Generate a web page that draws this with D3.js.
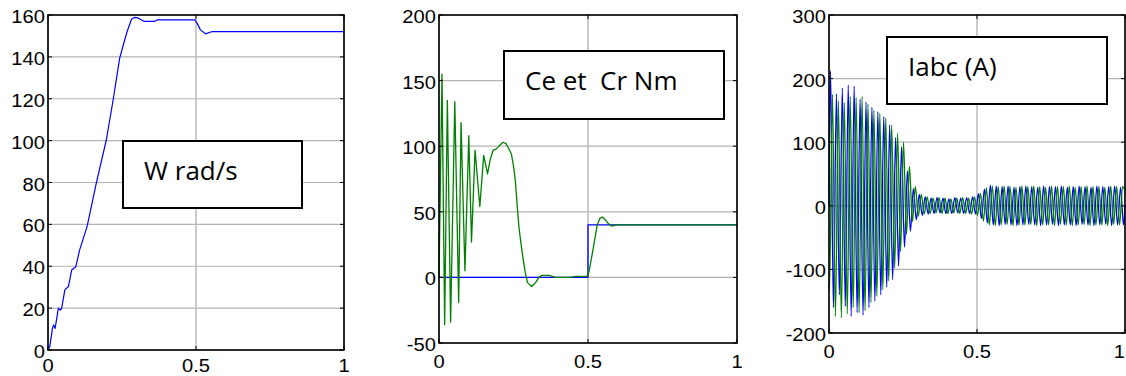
<!DOCTYPE html>
<html><head><meta charset="utf-8">
<script src="https://cdn.jsdelivr.net/npm/d3@7"></script>
<style>body{margin:0;background:#fff;} svg{display:block}</style>
</head><body>
<svg id="c" width="1126" height="376"></svg>
<script>
// ---------- tick data ----------
const xTicks = [0, 0.5, 1];
const xTickLabels = ["0", "0.5", "1"];
const wTicks = [0, 20, 40, 60, 80, 100, 120, 140, 160];
const ceTicks = [-50, 0, 50, 100, 150, 200];
const iTicks = [-200, -100, 0, 100, 200, 300];

// ---------- panel 1 : speed W (rad/s) ----------
const speedT = [0, 0.006, 0.015, 0.019, 0.024, 0.035, 0.042, 0.046, 0.057, 0.069, 0.080, 0.094, 0.107, 0.132, 0.163, 0.197, 0.220, 0.242, 0.256, 0.267, 0.282, 0.293, 0.304, 0.324, 0.361, 0.369, 0.496, 0.504, 0.515, 0.532, 0.555, 1.0];
const speedW = [0, 1.6, 10.3, 12, 10.3, 19.9, 19.1, 19.9, 28.7, 30.3, 38.2, 39.8, 47.8, 58.9, 79.6, 100.3, 119.4, 139.3, 146.5, 152, 158, 158.9, 158.6, 157, 157, 157.7, 157.7, 156, 152.9, 151, 152.1, 152.1];

// ---------- panel 2 : Ce (green) and Cr (blue) ----------
const ceT = [0, 0.010, 0.019, 0.028, 0.039, 0.053, 0.066, 0.074, 0.087, 0.100, 0.109, 0.121, 0.137, 0.150, 0.163, 0.172, 0.182, 0.193, 0.205, 0.215, 0.225, 0.232, 0.243, 0.250, 0.256, 0.262, 0.268, 0.276, 0.283, 0.290, 0.297, 0.311, 0.320, 0.327, 0.335, 0.344, 0.370, 0.390, 0.440, 0.460, 0.497, 0.503, 0.516, 0.531, 0.540, 0.548, 0.558, 0.568, 0.580, 0.595, 1.0];
const ceV = [0, 155, -36, 135, -34, 134, -19, 118, 5, 108, 27, 97, 54, 93, 79, 90, 97, 98, 101, 103, 102, 99, 94, 85, 74, 56, 39, 24, 13, 3, -4, -7, -5, -3, 0, 1.5, 1.5, 0, 0, 0.8, 1, 4, 20, 40, 45, 46, 44, 41, 39, 40, 40];
const crT = [0, 0.5, 1];
const crV = [0, 40, 40];

// ---------- panel 3 : Iabc (A), successive extrema every half period ----------
const halfPeriod = 0.01;
const iaStart = 0.005;   // first blue extremum (peak)
const ibStart = 0.0017;  // first green extremum (trough)
const iaExtrema = [
  212,-160, 176,-140, 185,-158, 190,-174, 188,-168, 168,-172, 163,-160, 155,-150, 148,-140, 140,-128,
  127,-116, 107,-95, 93,-65, 55,-40, 27,-22, 18,-15, 14,-13, 12,-12, 13,-11, 12,-12,
  11,-12, 13,-11, 12,-12, 13,-12, 14,-13, 19,-20, 26,-27, 32,-30, 31,-31, 30,-29,
  31,-30, 29,-31, 30,-30, 31,-29, 30,-30, 29,-31, 31,-30, 30,-29, 30,-31, 31,-30,
  29,-30, 30,-31, 31,-29, 30,-30, 29,-31, 31,-30, 30,-29, 30,-31, 31,-30, 29,-30
];
const ibExtrema = [
  -132,175, -174,165, -176,162, -170,172, -160,170, -168,172, -165,160, -152,150, -142,145, -132,138,
  -118,127, -98,114, -72,100, -45,62, -25,30, -16,18, -13,14, -12,12, -11,13, -12,12,
  -12,11, -11,12, -12,13, -12,12, -13,14, -15,20, -24,28, -30,31, -31,30, -30,31,
  -29,30, -31,29, -30,31, -30,30, -29,31, -31,30, -30,29, -30,31, -31,30, -29,30,
  -30,31, -31,29, -30,30, -29,31, -31,30, -30,30, -30,29, -31,31, -29,30, -30,30
];

// ---------- layout ----------
const W = 1126;
const svg = d3.select("#c");
const tickFont = "'Liberation Sans', Arial, sans-serif";
const legendFont = "'Open Sans', 'Noto Sans', sans-serif";

function panel(cfg) {
  const x = d3.scaleLinear().domain([0, 1]).range([cfg.left, cfg.right]);
  const y = d3.scaleLinear().domain(cfg.yDomain).range([cfg.bottom, cfg.top]);
  const g = svg.append("g");

  // grid
  g.selectAll(".gx").data(xTicks).join("line")
    .attr("x1", d => x(d)).attr("x2", d => x(d))
    .attr("y1", cfg.top).attr("y2", cfg.bottom)
    .attr("stroke", "#a8a8a8").attr("stroke-width", 1.2);
  g.selectAll(".gy").data(cfg.yTicks).join("line")
    .attr("x1", cfg.left).attr("x2", cfg.right)
    .attr("y1", d => y(d)).attr("y2", d => y(d))
    .attr("stroke", "#b4b4b4").attr("stroke-width", 1.2);

  // series
  cfg.series.forEach(s => {
    const line = d3.line().x(d => x(d[0])).y(d => y(d[1])).curve(s.curve || d3.curveLinear);
    g.append("path").datum(s.pts).attr("d", line)
      .attr("fill", "none").attr("stroke", s.color).attr("stroke-width", s.width || 1.2)
      .attr("stroke-linejoin", "round");
  });

  // legend box
  const L = cfg.legend;
  g.append("rect").attr("x", L.x).attr("y", L.y).attr("width", L.w).attr("height", L.h)
    .attr("fill", "#fff").attr("stroke", "#000").attr("stroke-width", 2);
  g.append("text").attr("x", L.tx).attr("y", L.ty).text(L.text)
    .attr("font-family", legendFont).attr("font-size", 26).attr("fill", "#000")
    .style("white-space", "pre");

  // axes box
  g.append("rect").attr("x", cfg.left).attr("y", cfg.top)
    .attr("width", cfg.right - cfg.left).attr("height", cfg.bottom - cfg.top)
    .attr("fill", "none").attr("stroke", "#000").attr("stroke-width", 1.6);

  // inner ticks
  const tl = 4;
  cfg.yTicks.forEach(v => {
    g.append("line").attr("x1", cfg.left).attr("x2", cfg.left + tl).attr("y1", y(v)).attr("y2", y(v)).attr("stroke", "#000");
    g.append("line").attr("x1", cfg.right).attr("x2", cfg.right - tl).attr("y1", y(v)).attr("y2", y(v)).attr("stroke", "#000");
  });
  xTicks.forEach(v => {
    g.append("line").attr("x1", x(v)).attr("x2", x(v)).attr("y1", cfg.bottom).attr("y2", cfg.bottom - tl).attr("stroke", "#000");
    g.append("line").attr("x1", x(v)).attr("x2", x(v)).attr("y1", cfg.top).attr("y2", cfg.top + tl).attr("stroke", "#000");
  });

  // tick labels
  cfg.yTicks.forEach(v => {
    g.append("text").attr("transform", `translate(${cfg.left - 3},${y(v) + 8}) scale(1.12,1)`)
      .attr("text-anchor", "end").attr("font-family", tickFont).attr("font-size", 18)
      .attr("fill", "#000").text(String(v));
  });
  xTicks.forEach((v, i) => {
    const t = g.append("text")
      .attr("text-anchor", "middle").attr("font-family", tickFont).attr("font-size", 18)
      .attr("fill", "#000").text(xTickLabels[i]);
    const half = t.node().getComputedTextLength() * 1.12 / 2;
    const px = Math.min(x(v), W - half - 1);
    t.attr("transform", `translate(${px},${Math.min(cfg.bottom + 25, 372)}) scale(1.12,1)`);
  });
}

const zip = (a, b) => a.map((v, i) => [v, b[i]]);
const extremaPts = (start, vals, first, last) =>
  [first].concat(vals.map((v, i) => [start + i * halfPeriod, v])).concat([last]);

panel({
  left: 48, right: 344, top: 15, bottom: 350, yDomain: [0, 160], yTicks: wTicks,
  series: [{ pts: zip(speedT, speedW), color: "#0000ff", width: 1.2 }],
  legend: { x: 123, y: 141, w: 179, h: 67, tx: 144, ty: 180, text: "W rad/s" }
});

panel({
  left: 439, right: 737, top: 15, bottom: 343, yDomain: [-50, 200], yTicks: ceTicks,
  series: [
    { pts: zip(crT, crV), color: "#0000ff", width: 1.3, curve: d3.curveStepAfter },
    { pts: zip(ceT, ceV), color: "#008000", width: 1.3 }
  ],
  legend: { x: 504, y: 51, w: 220, h: 68, tx: 525, ty: 90, text: "Ce et  Cr Nm" }
});

panel({
  left: 829, right: 1125, top: 15, bottom: 333, yDomain: [-200, 300], yTicks: iTicks,
  series: [
    { pts: extremaPts(iaStart, iaExtrema, [0, 0], [1, 0]), color: "#0000ff", width: 1.3, curve: d3.curveMonotoneX },
    { pts: extremaPts(ibStart, ibExtrema, [0, -125], [1, 25]), color: "#008000", width: 1.3, curve: d3.curveMonotoneX }
  ],
  legend: { x: 887, y: 37, w: 220, h: 67, tx: 908, ty: 76, text: "Iabc (A)" }
});
</script>
</body></html>
